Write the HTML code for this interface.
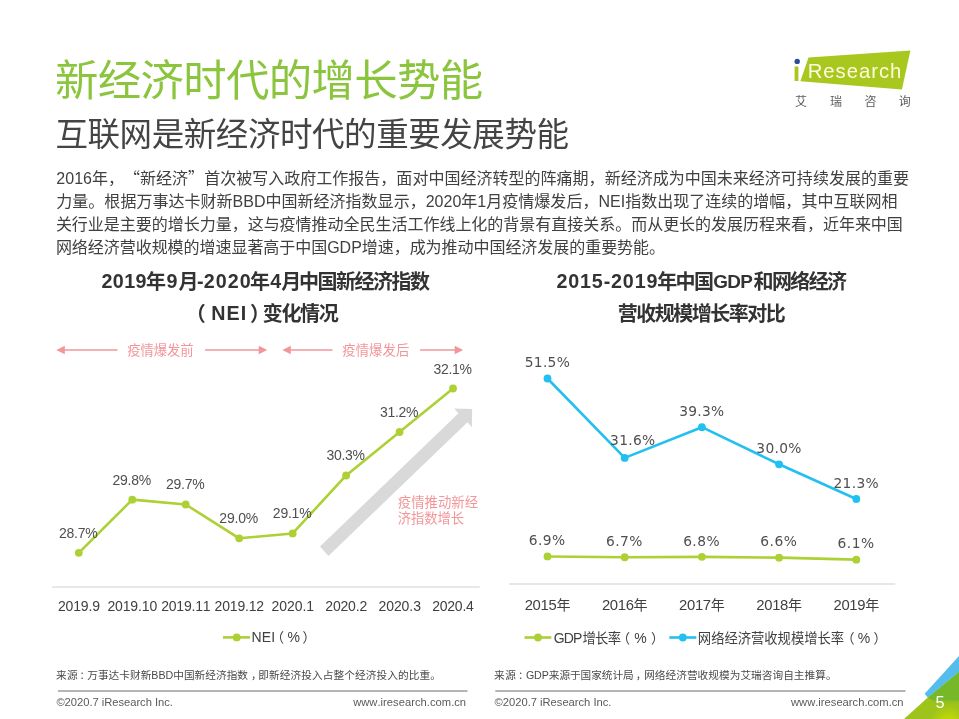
<!DOCTYPE html>
<html lang="zh-CN">
<head>
<meta charset="utf-8">
<title>新经济时代的增长势能</title>
<style>
html,body{margin:0;padding:0;background:#fff;}
body{width:959px;height:719px;overflow:hidden;position:relative;font-family:"Liberation Sans", "Noto Sans CJK SC", sans-serif;}
svg{position:absolute;left:0;top:0;display:block;}
text{font-family:"Liberation Sans", "Noto Sans CJK SC", sans-serif;text-spacing-trim:space-all;font-kerning:none;white-space:pre;}
</style>
</head>
<body>
<svg width="959" height="719" viewBox="0 0 959 719">
<defs>
<radialGradient id="cg" gradientUnits="userSpaceOnUse" cx="949" cy="725" r="20">
<stop offset="0" stop-color="#C6DA06"/><stop offset="0.4" stop-color="#BCD60B"/><stop offset="1" stop-color="#9EC41B"/>
</radialGradient>
<linearGradient id="dg" gradientUnits="userSpaceOnUse" x1="0" y1="698" x2="0" y2="704">
<stop offset="0" stop-color="#77B829" stop-opacity="1"/><stop offset="1" stop-color="#77B829" stop-opacity="0"/>
</linearGradient>
</defs>

<!-- headings -->
<text x="55.04" y="96.10" font-size="43.40" fill="#8AC53D" letter-spacing="-0.632">新经济时代的增长势能</text>
<text x="55.48" y="146.30" font-size="32.50" fill="#444444" letter-spacing="-0.431">互联网是新经济时代的重要发展势能</text>
<!-- body copy -->
<text font-size="16" fill="#404040"><tspan x="56.3" y="183.80" letter-spacing="0.020">2016年，</tspan><tspan x="124.01" y="183.80" letter-spacing="0.020"><tspan style="font-family:'Noto Sans CJK SC',sans-serif">“</tspan>新经济<tspan style="font-family:'Noto Sans CJK SC',sans-serif">”</tspan>首次被写入政府工作报告，面对中国经济转型的阵痛期，新经济成为中国未来经济可持续发展的重要</tspan><tspan x="56.3" y="206.70" letter-spacing="0.020">力量。根据万事达卡财新BBD中国新经济指数显示，2020年1月疫情爆发后，NEI指数出现了连续的增幅，其中互联网相</tspan><tspan x="55.9" y="229.90" letter-spacing="-0.020">关行业是主要的增长力量，这与疫情推动全民生活工作线上化的背景有直接关系。而从更长的发展历程来看，近年来中国</tspan><tspan x="55.9" y="253.10" letter-spacing="-0.040">网络经济营收规模的增速显著高于中国GDP增速，成为推动中国经济发展的重要势能。</tspan></text>
<g id="logo">
<polygon points="808.5,57.5 910.4,50.5 901.9,89.6 800.4,81.3" fill="#A8C71F"/>
<clipPath id="lc"><rect x="790" y="66.6" width="10.4" height="16"/><rect x="800.4" y="45" width="115" height="50"/></clipPath>
<circle cx="797.2" cy="61.4" r="2.7" fill="#2F4B9B"/>
<g clip-path="url(#lc)">
<text><tspan x="792.81" y="81.10" font-size="27.00" font-weight="bold" fill="#A8C71F" letter-spacing="0">i</tspan><tspan x="807.71" y="78.30" font-size="20.30" fill="#FFFCDC" letter-spacing="0.978">Research</tspan></text>
</g>
<text y="105.5" font-size="12" fill="#5C5C5C" text-anchor="middle"><tspan x="801.0">艾</tspan><tspan x="836.0">瑞</tspan><tspan x="870.5">咨</tspan><tspan x="904.8">询</tspan></text>
</g>
<g id="chart1">
<text><tspan x="101.38" y="288.20" font-size="19.70" font-weight="bold" fill="#333333" letter-spacing="0.427">2019</tspan><tspan x="146.07" y="288.90" font-size="20.00" font-weight="bold" fill="#333333" letter-spacing="0">年</tspan><tspan x="166.58" y="288.20" font-size="19.70" font-weight="bold" fill="#333333" letter-spacing="0">9</tspan><tspan x="178.39" y="288.90" font-size="20.00" font-weight="bold" fill="#333333" letter-spacing="0">月</tspan><tspan x="196.98" y="288.20" font-size="19.70" font-weight="bold" fill="#333333" letter-spacing="0">-</tspan><tspan x="203.78" y="288.20" font-size="19.70" font-weight="bold" fill="#333333" letter-spacing="1.063">2020</tspan><tspan x="250.07" y="288.90" font-size="20.00" font-weight="bold" fill="#333333" letter-spacing="0">年</tspan><tspan x="270.30" y="288.20" font-size="19.70" font-weight="bold" fill="#333333" letter-spacing="0">4</tspan><tspan x="281.19" y="288.90" font-size="20.00" font-weight="bold" fill="#333333" letter-spacing="0">月</tspan><tspan x="299.04" y="288.90" font-size="20.00" font-weight="bold" fill="#333333" letter-spacing="-1.504">中国新经济指数</tspan></text>
<text><tspan x="185.78" y="320.90" font-size="20.00" font-weight="bold" fill="#333333" letter-spacing="0">（</tspan><tspan x="211.37" y="320.20" font-size="19.70" font-weight="bold" fill="#333333" letter-spacing="0.978">NEI</tspan><tspan x="249.97" y="320.90" font-size="20.00" font-weight="bold" fill="#333333" letter-spacing="0">）</tspan><tspan x="262.68" y="320.90" font-size="20.00" font-weight="bold" fill="#333333" letter-spacing="-1.287">变化情况</tspan></text>
<line x1="62.0" y1="350.0" x2="117.5" y2="350.0" stroke="#F3969A" stroke-width="1.6"/><polygon points="56.3,350.0 64.8,345.8 64.8,354.2" fill="#F3969A"/>
<line x1="205.0" y1="350.0" x2="261.5" y2="350.0" stroke="#F3969A" stroke-width="1.6"/><polygon points="267.2,350.0 258.7,345.8 258.7,354.2" fill="#F3969A"/>
<text x="127.18" y="355.30" font-size="13.33" fill="#F3969A" letter-spacing="-0.052">疫情爆发前</text>
<line x1="288.0" y1="350.0" x2="332.5" y2="350.0" stroke="#F3969A" stroke-width="1.6"/><polygon points="282.3,350.0 290.8,345.8 290.8,354.2" fill="#F3969A"/>
<line x1="420.0" y1="350.0" x2="457.5" y2="350.0" stroke="#F3969A" stroke-width="1.6"/><polygon points="463.2,350.0 454.7,345.8 454.7,354.2" fill="#F3969A"/>
<text x="342.18" y="355.30" font-size="13.33" fill="#F3969A" letter-spacing="0.146">疫情爆发后</text>
<polygon points="320.0,546.6 328.4,555.9 467.5,422.3 471.9,427.2 472.1,408.9 454.0,408.4 458.5,413.2" fill="#D9D9D9"/>
<text><tspan x="397.78" y="506.60" font-size="13.33" fill="#F3969A" letter-spacing="0.051">疫情推动新经</tspan><tspan x="397.78" y="522.60" font-size="13.33" fill="#F3969A" letter-spacing="-0.054">济指数增长</tspan></text>
<rect x="52.2" y="586" width="427.5" height="2" fill="#E7E7E7"/>
<polyline points="78.80,552.80 132.26,499.65 185.72,504.48 239.18,538.30 292.64,533.47 346.10,475.49 399.56,432.00 453.02,388.51" fill="none" stroke="#ADD034" stroke-width="2.6" stroke-linejoin="round"/>
<circle cx="78.80" cy="552.80" r="3.9" fill="#ADD034"/>
<circle cx="132.26" cy="499.65" r="3.9" fill="#ADD034"/>
<circle cx="185.72" cy="504.48" r="3.9" fill="#ADD034"/>
<circle cx="239.18" cy="538.30" r="3.9" fill="#ADD034"/>
<circle cx="292.64" cy="533.47" r="3.9" fill="#ADD034"/>
<circle cx="346.10" cy="475.49" r="3.9" fill="#ADD034"/>
<circle cx="399.56" cy="432.00" r="3.9" fill="#ADD034"/>
<circle cx="453.02" cy="388.51" r="3.9" fill="#ADD034"/>
<text x="58.99" y="537.80" font-size="14.00" fill="#4F4F4F" letter-spacing="-0.231">28.7%</text>
<text x="112.45" y="484.65" font-size="14.00" fill="#4F4F4F" letter-spacing="-0.231">29.8%</text>
<text x="165.91" y="489.48" font-size="14.00" fill="#4F4F4F" letter-spacing="-0.231">29.7%</text>
<text x="219.37" y="523.30" font-size="14.00" fill="#4F4F4F" letter-spacing="-0.231">29.0%</text>
<text x="272.83" y="518.47" font-size="14.00" fill="#4F4F4F" letter-spacing="-0.231">29.1%</text>
<text x="326.51" y="460.49" font-size="14.00" fill="#4F4F4F" letter-spacing="-0.285">30.3%</text>
<text x="379.97" y="417.00" font-size="14.00" fill="#4F4F4F" letter-spacing="-0.285">31.2%</text>
<text x="433.43" y="373.51" font-size="14.00" fill="#4F4F4F" letter-spacing="-0.285">32.1%</text>
<text x="57.97" y="611.10" font-size="14.00" fill="#404040" letter-spacing="-0.169">2019.9</text>
<text x="107.43" y="611.10" font-size="14.00" fill="#404040" letter-spacing="-0.142">2019.10</text>
<text x="161.14" y="611.10" font-size="14.00" fill="#404040" letter-spacing="-0.189">2019.11</text>
<text x="214.60" y="611.10" font-size="14.00" fill="#404040" letter-spacing="-0.189">2019.12</text>
<text x="271.43" y="611.10" font-size="14.00" fill="#404040" letter-spacing="-0.019">2020.1</text>
<text x="325.27" y="611.10" font-size="14.00" fill="#404040" letter-spacing="-0.169">2020.2</text>
<text x="378.48" y="611.10" font-size="14.00" fill="#404040" letter-spacing="-0.069">2020.3</text>
<text x="432.31" y="611.10" font-size="14.00" fill="#404040" letter-spacing="-0.263">2020.4</text>
<line x1="223" y1="637.4" x2="250" y2="637.4" stroke="#ADD034" stroke-width="2.6"/>
<circle cx="236.7" cy="637.4" r="3.9" fill="#ADD034"/>
<text><tspan x="251.51" y="642.30" font-size="14.00" fill="#404040" letter-spacing="0.110">NEI</tspan><tspan x="270.84" y="642.30" font-size="13.33" fill="#404040" letter-spacing="0">（</tspan><tspan x="287.56" y="642.30" font-size="14.00" fill="#404040" letter-spacing="0">%</tspan><tspan x="302.58" y="642.30" font-size="13.33" fill="#404040" letter-spacing="0">）</tspan></text>
</g>
<g id="chart2">
<text><tspan x="556.48" y="288.20" font-size="19.70" font-weight="bold" fill="#333333" letter-spacing="0.850">2015-2019</tspan><tspan x="657.17" y="288.90" font-size="20.00" font-weight="bold" fill="#333333" letter-spacing="-1.556">年中国</tspan><tspan x="713.31" y="288.20" font-size="18.90" font-weight="bold" fill="#333333" letter-spacing="-0.734">GDP</tspan><tspan x="753.49" y="288.90" font-size="20.00" font-weight="bold" fill="#333333" letter-spacing="-1.594">和网络经济</tspan></text>
<text x="617.86" y="320.90" font-size="20.00" font-weight="bold" fill="#333333" letter-spacing="-1.505">营收规模增长率对比</text>
<rect x="509.2" y="583" width="386" height="2" fill="#E7E7E7"/>
<polyline points="547.50,378.50 624.70,457.90 701.90,427.18 779.10,464.29 856.30,499.00" fill="none" stroke="#22C0F0" stroke-width="2.6" stroke-linejoin="round"/>
<circle cx="547.50" cy="378.50" r="3.9" fill="#22C0F0"/>
<circle cx="624.70" cy="457.90" r="3.9" fill="#22C0F0"/>
<circle cx="701.90" cy="427.18" r="3.9" fill="#22C0F0"/>
<circle cx="779.10" cy="464.29" r="3.9" fill="#22C0F0"/>
<circle cx="856.30" cy="499.00" r="3.9" fill="#22C0F0"/>
<polyline points="547.50,556.45 624.70,557.25 701.90,556.85 779.10,557.65 856.30,559.65" fill="none" stroke="#ADD034" stroke-width="2.6" stroke-linejoin="round"/>
<circle cx="547.50" cy="556.45" r="3.9" fill="#ADD034"/>
<circle cx="624.70" cy="557.25" r="3.9" fill="#ADD034"/>
<circle cx="701.90" cy="556.85" r="3.9" fill="#ADD034"/>
<circle cx="779.10" cy="557.65" r="3.9" fill="#ADD034"/>
<circle cx="856.30" cy="559.65" r="3.9" fill="#ADD034"/>
<text x="524.74" y="367.30" font-size="13.80" fill="#4F4F4F" letter-spacing="0.307" style='font-family:"DejaVu Sans", "Liberation Sans", sans-serif'>51.5%</text>
<text x="610.09" y="444.80" font-size="13.80" fill="#4F4F4F" letter-spacing="0.307" style='font-family:"DejaVu Sans", "Liberation Sans", sans-serif'>31.6%</text>
<text x="679.14" y="415.98" font-size="13.80" fill="#4F4F4F" letter-spacing="0.307" style='font-family:"DejaVu Sans", "Liberation Sans", sans-serif'>39.3%</text>
<text x="756.34" y="453.09" font-size="13.80" fill="#4F4F4F" letter-spacing="0.307" style='font-family:"DejaVu Sans", "Liberation Sans", sans-serif'>30.0%</text>
<text x="833.54" y="487.80" font-size="13.80" fill="#4F4F4F" letter-spacing="0.307" style='font-family:"DejaVu Sans", "Liberation Sans", sans-serif'>21.3%</text>
<text x="528.74" y="545.15" font-size="13.80" fill="#4F4F4F" letter-spacing="0.470" style='font-family:"DejaVu Sans", "Liberation Sans", sans-serif'>6.9%</text>
<text x="605.94" y="545.95" font-size="13.80" fill="#4F4F4F" letter-spacing="0.470" style='font-family:"DejaVu Sans", "Liberation Sans", sans-serif'>6.7%</text>
<text x="683.14" y="545.55" font-size="13.80" fill="#4F4F4F" letter-spacing="0.470" style='font-family:"DejaVu Sans", "Liberation Sans", sans-serif'>6.8%</text>
<text x="760.34" y="546.35" font-size="13.80" fill="#4F4F4F" letter-spacing="0.470" style='font-family:"DejaVu Sans", "Liberation Sans", sans-serif'>6.6%</text>
<text x="837.54" y="548.35" font-size="13.80" fill="#4F4F4F" letter-spacing="0.470" style='font-family:"DejaVu Sans", "Liberation Sans", sans-serif'>6.1%</text>
<text x="524.70" y="610.20" fill="#404040" letter-spacing="-0.320"><tspan font-size="14.84">2015</tspan><tspan font-size="14.00">年</tspan></text>
<text x="601.90" y="610.20" fill="#404040" letter-spacing="-0.320"><tspan font-size="14.84">2016</tspan><tspan font-size="14.00">年</tspan></text>
<text x="679.10" y="610.20" fill="#404040" letter-spacing="-0.320"><tspan font-size="14.84">2017</tspan><tspan font-size="14.00">年</tspan></text>
<text x="756.30" y="610.20" fill="#404040" letter-spacing="-0.320"><tspan font-size="14.84">2018</tspan><tspan font-size="14.00">年</tspan></text>
<text x="833.50" y="610.20" fill="#404040" letter-spacing="-0.320"><tspan font-size="14.84">2019</tspan><tspan font-size="14.00">年</tspan></text>
<line x1="524.5" y1="637.5" x2="551.3" y2="637.5" stroke="#ADD034" stroke-width="2.6"/>
<circle cx="538" cy="637.5" r="3.9" fill="#ADD034"/>
<text><tspan x="553.64" y="642.50" font-size="14.00" fill="#404040" letter-spacing="-0.797">GDP</tspan><tspan x="582.38" y="642.50" font-size="13.33" fill="#404040" letter-spacing="-0.674">增长率</tspan><tspan x="616.64" y="642.50" font-size="13.33" fill="#404040" letter-spacing="0">（</tspan><tspan x="634.26" y="642.50" font-size="14.00" fill="#404040" letter-spacing="0">%</tspan><tspan x="651.08" y="642.50" font-size="13.33" fill="#404040" letter-spacing="0">）</tspan></text>
<line x1="669.3" y1="637.5" x2="696.3" y2="637.5" stroke="#22C0F0" stroke-width="2.6"/>
<circle cx="682.8" cy="637.5" r="3.9" fill="#22C0F0"/>
<text><tspan x="697.86" y="642.50" font-size="13.33" fill="#404040" letter-spacing="-0.036">网络经济营收规模增长率</tspan><tspan x="841.24" y="642.50" font-size="13.33" fill="#404040" letter-spacing="0">（</tspan><tspan x="857.76" y="642.50" font-size="14.00" fill="#404040" letter-spacing="0">%</tspan><tspan x="873.38" y="642.50" font-size="13.33" fill="#404040" letter-spacing="0">）</tspan></text>
</g>
<!-- sources and footers -->
<text><tspan x="56.07" y="679.30" font-size="10.67" fill="#4A4A4A" letter-spacing="0.327">来源</tspan><tspan x="79.47" y="679.30" font-size="10.67" fill="#4A4A4A" letter-spacing="0">：</tspan><tspan x="87.27" y="679.30" font-size="10.67" fill="#4A4A4A" letter-spacing="0.017">万事达卡财新BBD中国新经济指数</tspan><tspan x="251.07" y="679.30" font-size="10.67" fill="#4A4A4A" letter-spacing="0">，</tspan><tspan x="258.23" y="679.30" font-size="10.67" fill="#4A4A4A" letter-spacing="0.088">即新经济投入占整个经济投入的比重。</tspan></text>
<text><tspan x="494.07" y="679.30" font-size="10.67" fill="#4A4A4A" letter-spacing="0.527">来源</tspan><tspan x="518.07" y="679.30" font-size="10.67" fill="#4A4A4A" letter-spacing="0">：</tspan><tspan x="525.90" y="679.30" font-size="10.67" fill="#4A4A4A" letter-spacing="-0.055">GDP来源于国家统计局</tspan><tspan x="635.67" y="679.30" font-size="10.67" fill="#4A4A4A" letter-spacing="0">，</tspan><tspan x="644.17" y="679.30" font-size="10.67" fill="#4A4A4A" letter-spacing="0.036">网络经济营收规模为艾瑞咨询自主推算。</tspan></text>
<rect x="58" y="690.1" width="409.5" height="1.8" fill="#ADADAD"/>
<rect x="495.3" y="690.1" width="410.2" height="1.8" fill="#ADADAD"/>
<text x="56.40" y="706.00" font-size="11.20" fill="#5A5A5A" letter-spacing="-0.028">©2020.7 iResearch Inc.</text>
<text x="353.18" y="706.00" font-size="11.20" fill="#5A5A5A" letter-spacing="0.021">www.iresearch.com.cn</text>
<text x="494.60" y="706.00" font-size="11.20" fill="#5A5A5A" letter-spacing="-0.014">©2020.7 iResearch Inc.</text>
<text x="790.97" y="706.00" font-size="11.20" fill="#5A5A5A" letter-spacing="0.005">www.iresearch.com.cn</text>
<g id="corner">
<polygon points="904,719 927.8,697.4 959,671.7 959,719" fill="url(#cg)"/>
<polygon points="927.8,697.4 959,671.7 959,700.5 931,699.5" fill="#77B829"/>
<polygon points="931,699.3 959,700.3 959,705 936,704" fill="url(#dg)"/>
<polygon points="924.6,693.8 959,656.0 959,671.7 927.8,697.4" fill="#55BDEC"/>
<text x="935.59" y="708.00" font-size="16.30" fill="#FFFFFF" letter-spacing="0">5</text>
</g>
</svg>
</body>
</html>
